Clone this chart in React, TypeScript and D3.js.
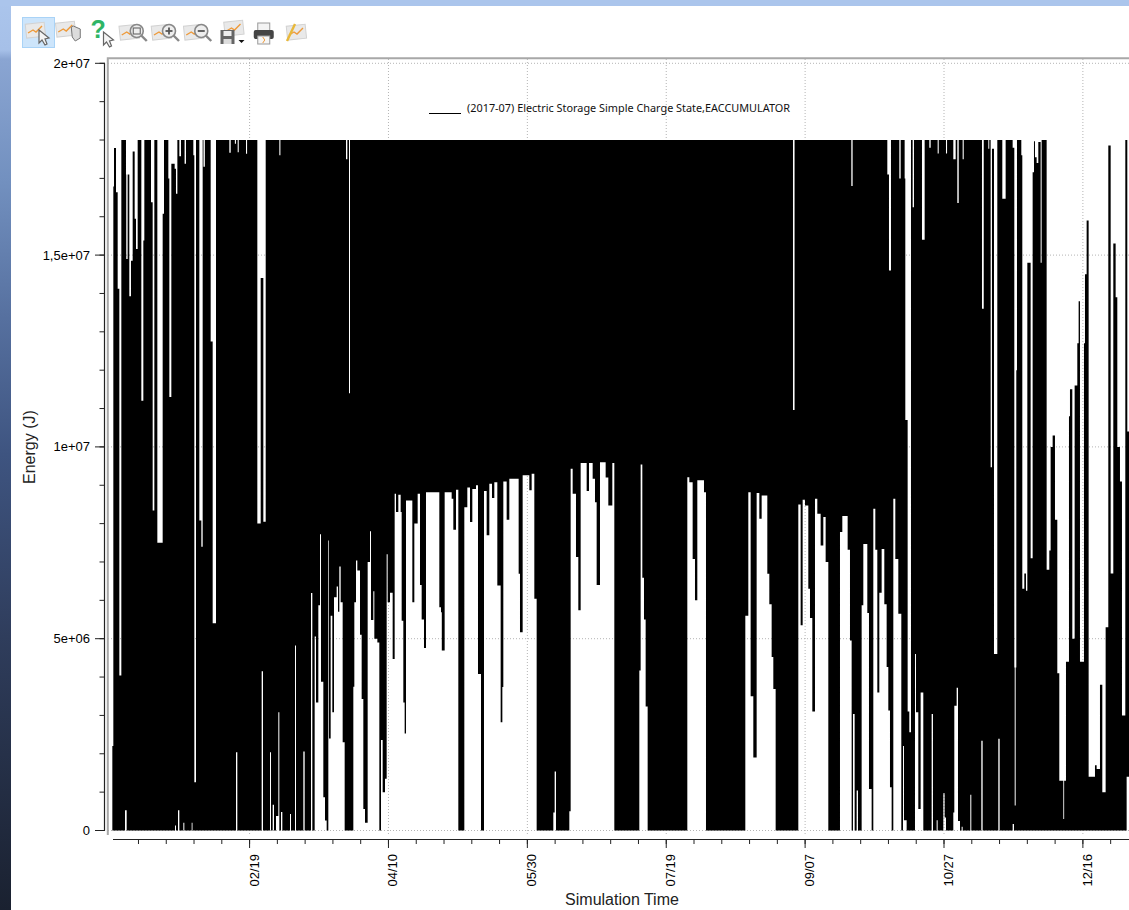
import React from "react";
import * as d3 from "d3";

// Values are in millions of joules; days count from the start of the simulation.
const yTickValues = [0, 5, 10, 15, 20];
const yTickLabels = ["0", "5e+06", "1e+07", "1,5e+07", "2e+07"];
const yMinorValues = d3.range(0, 21);
const xTickDays = [50, 100, 150, 200, 250, 300, 350];
const xTickLabels = ["02/19", "04/10", "05/30", "07/19", "09/07", "10/27", "12/16"];
const xMinorDays = d3.range(10, 361, 10);
const legendText = "(2017-07) Electric Storage Simple Charge State,EACCUMULATOR";
const toolbarIcons = ["select", "pan", "help", "zoomBox", "zoomIn", "zoomOut", "save", "print", "edit"];

const firstDay = 0.59;
const lastDay = 366.6;

// Upper limit of the swing of the charge state: [day it starts, value]
const upperSteps: [number, number][] = [
  [0.59,2.2],[0.95,16.79],[1.19,17.79],[1.91,16.64],[2.51,14.12],[3.11,4.04],[3.83,18],[5.5,17.1],[5.6,14.9],[6.1,17.1],[6.7,13.93],[7.3,14.85],[7.91,17.7],[8.63,15.95],[9.11,15.16],[9.71,18],
  [11.03,11.2],[11.75,15.38],[12.11,18],[14.51,16.38],[15.11,8.34],[15.71,18],[16.79,7.5],[18.71,16.08],[19.19,18],[20.75,17],[21.11,11.3],[21.83,17.38],[23.03,17.25],[23.5,16.6],[24,18],[24.71,17.58],[25.3,18],[26.6,17.38],[27.1,18],
  [29.75,17.6],[30.11,1.26],[30.71,18],[31.91,8.08],[32.63,7.4],[33.11,18],[33.4,17.3],[33.9,18],[35.99,12.75],[36.71,5.4],[37.91,18],[42.71,17.67],[43.2,18],[44.7,17.9],[45.1,18],[45.71,17.68],[46.1,18],[48.71,17.64],[49.1,18],
  [52.79,8],[54,14.4],[54.95,8.05],[55.8,18],[60.71,17.6],[61.1,18],[84.71,17.5],[85.2,18],[85.79,11.4],[86.15,18],
  [245.63,10.96],[246.2,18],[266.63,16.8],[267.1,18],[279.59,17.1],[280.19,14.6],[280.91,18],[283.91,17],[284.4,18],[285.83,17],[286.07,10.7],[286.91,3.1],[287.51,2.56],[288.11,18],[288.71,16.25],[289.19,18],
  [292.07,15.4],[293.03,18],[294.71,17.8],[295.2,18],[297.71,17.65],[298.1,18],[300.71,17.65],[301.1,18],[303.35,17.5],[304.2,18],[304.79,16.36],[305.3,18],[306.71,17.5],[307.1,18],[313.67,13.6],[314.3,18],[315.95,17.77],[316.3,18],
  [316.79,9.47],[317.27,17.77],[317.99,4.6],[319.19,18],[320.99,16.47],[322.19,18],[324.71,17.8],[325.31,4.25],[325.45,0.65],[325.8,4.25],[326.03,12],[326.27,18],[327.83,17.6],[328.19,6.3],[328.91,6.7],[329.51,6.25],[330,14.8],[331.19,7.1],[331.91,17.16],[332.39,17.97],[332.75,17.55],[333.35,17.4],[333.95,17.95],[334.79,14.8],[335.15,18],
  [336.95,6.8],[337.91,7.3],[338.39,10],[339.11,10.3],[339.95,8.1],[340.79,4.1],[341.51,1.3],[342.95,0.3],[343.25,1.3],[343.91,4.4],[344.99,10.8],[345.35,11.5],[346.19,5],[347.03,11.6],[347.99,12.7],[348.47,13.8],[348.95,4.4],[350.39,12.7],[350.75,14.5],[351.35,15.9],[352.07,1.4],[354.35,1.7],[354.95,1.6],[356.15,3.8],[356.99,1],[358.19,5.3],[359.15,17.86],[360,6.7],[360.95,15.3],[361.79,13.9],[362.39,10],[363.35,9.1],[364.07,3],[365.27,18],[365.99,10.4],
];

// Lower limit of the swing of the charge state: [day it starts, value]
const lowerSteps: [number, number][] = [
  [0.59,0],[5.15,0.53],[5.75,0],[23.15,0.13],[23.5,0],[24.23,0.53],[24.71,0],[26.15,0.2],[26.51,0],[29.15,0.2],[29.45,0],[45.11,2.04],[45.59,0],[54.35,4.15],[54.83,0],[57.35,2.04],[57.71,0],[58.31,0.67],[58.79,0],[59.51,0.38],[60.35,3.08],[60.71,0],[61.31,0.48],[61.79,0],[64.55,0.43],[64.91,0],[66.35,4.82],[66.71,0],[69.35,2.06],[69.83,0],[72.11,6.19],[72.59,0],
  [73.43,5.06],[73.91,3.34],[74.75,5.87],[75.35,7.72],[75.71,3.88],[76.55,0.87],[77.15,0.26],[77.75,0],[78.35,7.56],[78.59,2.4],[79.19,5.6],[79.79,3.08],[80.39,6.08],[81.35,6.36],[81.83,5.7],[82.31,6.88],[82.79,5.95],[83.51,2.3],[84.23,0],[87.35,3.75],[87.71,5.95],[88.31,7.04],[88.79,6.78],[89.75,5.1],[90.35,3.43],[90.95,0.56],[91.55,0.2],[92.51,7],[93.35,7.8],[93.71,5.49],[94.55,6.24],[94.91,5],[96,4.9],[96.71,0],[97.31,2.36],[97.91,1],[98.75,1.35],[99.35,7.2],[99.71,5.95],
  [100.55,6.2],[101.51,4.47],[102.23,8.78],[102.71,8.3],[103.55,8.75],[104.39,8.3],[104.75,5.47],[105.35,3.34],[105.83,2.53],[106.31,8.6],[108.59,5.95],[109.31,8],[110.51,8.78],[111.35,6.4],[111.95,5.5],[112.79,4.76],[113.51,8.82],[118.31,5.82],[118.91,5.69],[119.2,4.69],[120.23,8.82],[122.75,8.65],[123.35,7.84],[124.31,8.88],[125.15,0],[127.31,8.43],[128.39,8.94],[129.35,8.04],[130.19,8.9],[131.51,9],[132.23,4.08],[133.31,0],[134.39,8.85],[135.35,7.7],[136.31,9.04],[137.27,8.67],[138.11,9.08],[139.19,6.39],[140.39,2.82],[141,3.74],[141.35,9.1],[142.55,8.1],[143.51,9.17],[146.87,6.69],[147.35,5.17],[148.31,9.26],[150.71,8.87],[151.55,9.3],[152.51,6.04],[153.35,0],
  [159.35,0.47],[159.83,1.54],[160.31,0],[165.11,0.5],[165.59,9.43],[166.31,8.78],[167.51,7.13],[168.35,5.74],[169.19,9.58],[171.35,8.85],[172.19,9.58],[173.51,9.17],[174.35,8.56],[174.95,6.4],[176.15,9.6],[178.19,9.2],[179.15,8.47],[180.59,9.58],[181.31,0],[190.31,4.17],[190.79,9.54],[191.39,6.59],[191.99,5.5],[192.59,3.23],[193.31,0],[207.59,9.21],[208.31,9.08],[209.51,7.08],[210.35,6],[211.19,9.13],[213.59,8.82],[214.31,0],[228.47,5.6],[229.55,8.82],[230.39,3.5],[231.35,1.9],[232.55,8.8],[233.51,8.13],[234.35,8.73],[236.39,6.69],[237.11,5.9],[237.95,4.52],[238.55,3.69],[239.39,0],
  [247.55,8.5],[248.39,5.35],[249.11,8.62],[249.95,8.47],[251.15,6.3],[251.75,5.54],[252.59,3.1],[253.55,8.65],[254.39,8.26],[255.59,7.43],[256.55,8.17],[257.39,7],[258.35,0],[262.55,7.78],[263.39,8.2],[265.31,7.32],[266.15,4.95],[266.75,0],[267.23,3.04],[267.83,0],[268.55,1.04],[269.03,0],[270.35,5.87],[270.95,7.47],[272.39,5.67],[272.99,1.08],[273.95,0],[274.55,8.39],[275.27,7.32],[275.99,3.6],[276.71,6.2],[277.55,7.34],[278.51,5.9],[279.35,4.26],[279.95,3.13],[280.55,1.13],[281.15,0],[281.75,8.65],[282.47,7.08],[283.55,5.65],[284.63,0],[285.23,2.2],[285.59,0.27],[286.55,0],
  [289.55,4.6],[289.91,3.08],[290.75,0.56],[291.59,3.6],[292.55,0],[295.55,3.04],[296.03,0],[297.35,0.27],[297.71,0],[299.75,0.97],[300.23,0.34],[300.71,0],[303.35,0.47],[303.71,3.25],[304.55,3.72],[305.03,0.25],[305.75,0],[306.35,0.1],[306.71,0],[309.47,0.93],[309.83,0],[313.43,2.34],[313.91,0],[319.55,2.39],[320.03,0],[324.71,0.17],[325.19,0],[365.75,1.4],
];

const W = 1129;
const H = 910;
const x = d3.scaleLinear().domain([0, lastDay]).range([110.7, W]);
const y = d3.scaleLinear().domain([0, 20]).range([830.5, 63.3]);
const FONT = "'Liberation Sans', Arial, sans-serif";

function stepValue(steps: [number, number][], day: number) {
  const i = d3.bisectRight(steps.map((s) => s[0]), day) - 1;
  return steps[Math.max(0, i)][1];
}

const breakDays = Array.from(new Set([...upperSteps, ...lowerSteps].map((s) => s[0]).concat(lastDay))).sort((a, b) => a - b);
const swing = breakDays.filter((d) => d >= firstDay).map((day) => {
  const high = stepValue(upperSteps, day);
  const low = stepValue(lowerSteps, day);
  return { day, high, low: Math.min(low, high) };
});
const swingArea = d3.area<{ day: number; high: number; low: number }>()
  .x((d) => x(d.day)).y0((d) => y(d.low)).y1((d) => y(d.high)).curve(d3.curveStepAfter);

function Paper({ dx = 0, dy = 0 }: { dx?: number; dy?: number }) {
  return (
    <g transform={`translate(${dx},${dy})`}>
      <rect x={-11} y={-8} width={19} height={14} fill="#e9e9e9" stroke="#d2d2d2" transform="rotate(-6)" />
      <path d="M-9,2 L-4,-1 L-1,1 L5,-5" fill="none" stroke="#ee9a3a" strokeWidth={1.4} />
    </g>
  );
}
function Arrow({ dx, dy }: { dx: number; dy: number }) {
  return (
    <path transform={`translate(${dx},${dy})`} d="M0,0 L0,13 L3,10 L6,15 L8,14 L6,9 L10,8 Z" fill="#f4f4f4" stroke="#666" strokeWidth={1.2} />
  );
}
function Lens({ sign }: { sign: string }) {
  return (
    <g>
      <path d="M4,4 L10,10" stroke="#888" strokeWidth={2.4} />
      <circle cx={0} cy={0} r={6.5} fill="#eee" stroke="#888" strokeWidth={1.6} />
      {sign === "box" && <rect x={-3.5} y={-3} width={7} height={6} fill="none" stroke="#666" strokeWidth={1.1} />}
      {sign !== "box" && <path d="M-3.5,0 H3.5" stroke="#555" strokeWidth={1.8} />}
      {sign === "plus" && <path d="M0,-3.5 V3.5" stroke="#555" strokeWidth={1.8} />}
    </g>
  );
}
function Icon({ name }: { name: string }) {
  switch (name) {
    case "select":
      return (<g><Paper dx={-1} dy={-2} /><Arrow dx={1} dy={-3} /></g>);
    case "pan":
      return (<g><Paper dx={-3} dy={-3} /><path d="M1,-6 L3,-7 L10,-4 L10,5 L5,8 L2,4 Z" fill="#dcdcdc" stroke="#777" /></g>);
    case "help":
      return (<g>
        <text x={-12} y={5} fontFamily={FONT} fontWeight={700} fontSize={25} fill="#2fb566">?</text>
        <Arrow dx={1} dy={-1} />
      </g>);
    case "zoomBox":
      return (<g><Paper dx={-4} /><g transform="translate(2,-2)"><Lens sign="box" /></g></g>);
    case "zoomIn":
      return (<g><Paper dx={-4} /><g transform="translate(2,-2)"><Lens sign="plus" /></g></g>);
    case "zoomOut":
      return (<g><Paper dx={-4} /><g transform="translate(2,-2)"><Lens sign="minus" /></g></g>);
    case "save":
      return (<g>
        <Paper dx={4} dy={-4} />
        <rect x={-11} y={-3} width={14} height={14} fill="#666" />
        <rect x={-8} y={-2} width={8} height={5} fill="#eee" />
        <rect x={-8} y={6} width={8} height={5} fill="#ddd" />
        <path d="M7,7 H13 L10,10 Z" fill="#111" />
      </g>);
    case "print":
      return (<g>
        <rect x={-6} y={-10} width={12} height={8} fill="#f3f3f3" stroke="#999" />
        <rect x={-10} y={-3} width={20} height={9} rx={2} fill="#444" />
        <rect x={-6} y={3} width={12} height={8} fill="#f6f6f6" stroke="#999" />
        <path d="M-1,4 L1,7 L-1,10" fill="none" stroke="#ee9a3a" />
      </g>);
    default:
      return (<g>
        <Paper dx={2} dy={0} />
        <path d="M-9,8 L-1,-9" stroke="#e8b83a" strokeWidth={2.4} />
      </g>);
  }
}

export default function App() {
  const iconX = d3.scalePoint<string>().domain(toolbarIcons).range([38, 296]);
  return (
    <svg width={W} height={H} viewBox={`0 0 ${W} ${H}`} style={{ position: "fixed", left: 0, top: 0, display: "block" }}>
      <defs>
        <linearGradient id="desk" x1="0" y1="0" x2="0" y2="1">
          <stop offset="0" stopColor="#abc5ec" />
          <stop offset="0.055" stopColor="#a6c0e8" />
          <stop offset="0.065" stopColor="#8aa5d2" />
          <stop offset="0.2" stopColor="#7290bf" />
          <stop offset="0.35" stopColor="#56709f" />
          <stop offset="0.5" stopColor="#3e5480" />
          <stop offset="0.7" stopColor="#2f3d5c" />
          <stop offset="1" stopColor="#1a2130" />
        </linearGradient>
      </defs>
      <rect width={W} height={H} fill="url(#desk)" />
      <rect x={0} y={0} width={W} height={6} fill="#abc5ec" />
      <rect x={11} y={6} width={W - 11} height={H - 6} fill="#ffffff" />

      <rect x={22.5} y={17.5} width={32} height={30} fill="#cde5fb" stroke="#a9d3f7" />
      {toolbarIcons.map((name) => (
        <g key={name} transform={`translate(${iconX(name)},33)`}>
          <Icon name={name} />
        </g>
      ))}

      {yTickValues.map((v) => (
        <line key={v} x1={108} x2={W} y1={y(v)} y2={y(v)} stroke="#b4b4b4" strokeDasharray="1 2" />
      ))}
      {xTickDays.map((d) => (
        <line key={d} x1={x(d)} x2={x(d)} y1={59} y2={834} stroke="#b4b4b4" strokeDasharray="1 2" />
      ))}

      <path d={swingArea(swing) ?? ""} fill="#000" />

      <path d={`M107.8,835 V58.2 H${W}`} fill="none" stroke="#a8a8a8" strokeWidth={2} />

      <line x1={104.5} x2={104.5} y1={y(20)} y2={y(0)} stroke="#222" strokeWidth={1.2} />
      {yMinorValues.map((v) => (
        <line key={v} x1={99.5} x2={105} y1={y(v)} y2={y(v)} stroke="#222" />
      ))}
      {yTickValues.map((v, i) => (
        <g key={v}>
          <line x1={95} x2={105} y1={y(v)} y2={y(v)} stroke="#222" />
          <text x={90} y={y(v) + 4.5} textAnchor="end" fontFamily={FONT} fontSize={13} fill="#000">{yTickLabels[i]}</text>
        </g>
      ))}
      <text transform="translate(35,484) rotate(-90)" fontFamily={FONT} fontSize={16} fill="#222">Energy (J)</text>

      <line x1={113} x2={W} y1={839.5} y2={839.5} stroke="#222" strokeWidth={1.2} />
      {xMinorDays.map((d) => (
        <line key={d} x1={x(d)} x2={x(d)} y1={839.5} y2={844} stroke="#222" />
      ))}
      {xTickDays.map((d, i) => (
        <g key={d}>
          <line x1={x(d)} x2={x(d)} y1={839.5} y2={848} stroke="#222" />
          <text transform={`translate(${x(d) + 9},854) rotate(-90)`} textAnchor="end" fontFamily={FONT} fontSize={13} fill="#000">{xTickLabels[i]}</text>
        </g>
      ))}
      <text x={622} y={905} textAnchor="middle" fontFamily={FONT} fontSize={16} fill="#222">Simulation Time</text>

      <line x1={429} x2={461} y1={113.5} y2={113.5} stroke="#000" />
      <text x={467} y={112} fontFamily="'Noto Sans', sans-serif" fontSize={11} textLength={323} lengthAdjust="spacingAndGlyphs" fill="#111">{legendText}</text>
    </svg>
  );
}
